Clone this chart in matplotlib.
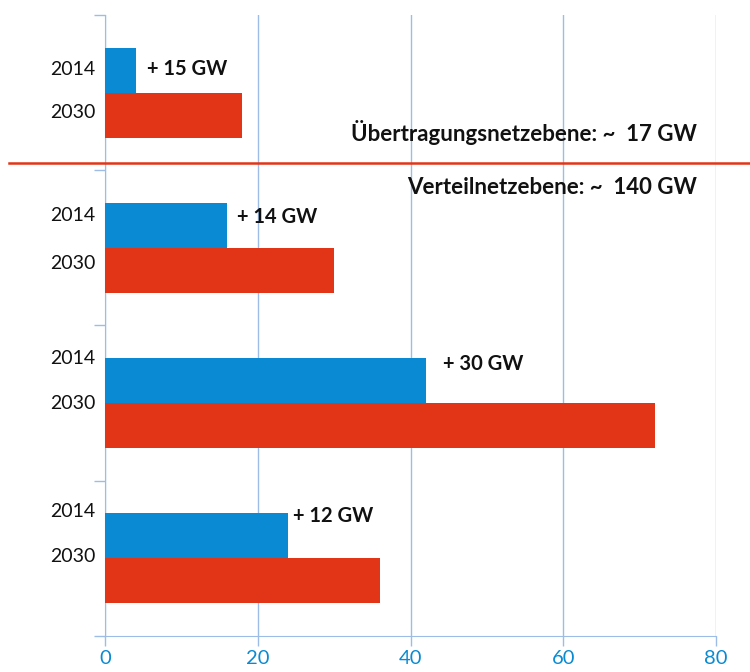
import matplotlib.pyplot as plt
import numpy as np

# ---------------- DATA ----------------
groups = [0, 1, 2, 3]
values_2014 = [4, 16, 42, 24]
values_2030 = [18, 30, 72, 36]
deltas = ["+ 15 GW", "+ 14 GW", "+ 30 GW", "+ 12 GW"]
years = ["2014", "2030"]
x_ticks = [0, 20, 40, 60, 80]
level_top = "Übertragungsnetzebene: ~  17 GW"
level_bottom = "Verteilnetzebene: ~  140 GW"

# ---------------- STYLE ----------------
BLUE = "#0A8AD2"
RED = "#E23518"
GRID = "#9DBDE6"
plt.rcParams["font.family"] = ["Lato", "DejaVu Sans"]

fig = plt.figure(figsize=(7.5, 6.72), dpi=100)
ax = fig.add_axes([0.14, 0.0536, 0.8147, 0.9241])

h = 0.29
y = np.array(groups, dtype=float)
ax.barh(y - h / 2, values_2014, height=h, color=BLUE, zorder=3)
ax.barh(y + h / 2, values_2030, height=h, color=RED, zorder=3)

ax.set_xlim(0, 80)
ax.set_ylim(3.5, -0.5)

# year labels beside each bar pair (drift a bit like the original)
year_off = [(-0.15, 0.13), (-0.21, 0.10), (-0.29, 0.0), (-0.30, -0.01)]
delta_off = [(1.5, -0.15), (1.3, -0.20), (2.3, -0.25), (0.6, -0.27)]
for i, g in enumerate(groups):
    for lab, off in zip(years, year_off[i]):
        ax.text(-1.3, g + off, lab, ha="right", va="center", fontsize=14,
                color="#111111")
    ax.text(values_2014[i] + delta_off[i][0], g + delta_off[i][1], deltas[i],
            ha="left", va="center", fontsize=14.5, fontweight="bold",
            color="#111111")

# level separators
ax.text(77.5, 0.26, level_top, ha="right", va="center", fontsize=16,
        fontweight="bold", color="#111111")
ax.text(77.5, 0.614, level_bottom, ha="right", va="center", fontsize=16,
        fontweight="bold", color="#111111")
fig.add_artist(plt.Line2D([0.012, 1.0], [1 - 163 / 672, 1 - 163 / 672],
                          color=RED, lw=1.8))

# axes styling
ax.set_xticks(x_ticks)
ax.set_yticks([-0.5, 0.5, 1.5, 2.5, 3.5])
ax.set_yticklabels([])
ax.tick_params(axis="x", colors=GRID, length=7, width=1, labelcolor=BLUE,
               labelsize=14.5, pad=3)
ax.tick_params(axis="y", colors=GRID, length=8, width=1)
for lab in ax.get_xticklabels():
    lab.set_color(BLUE)
ax.grid(axis="x", color=GRID, lw=1, zorder=0)
for side in ["top", "right"]:
    ax.spines[side].set_visible(False)
for side in ["left", "bottom"]:
    ax.spines[side].set_color(GRID)

fig.savefig("out.png", dpi=100)
